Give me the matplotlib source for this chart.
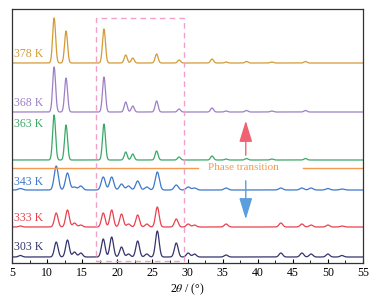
import numpy as np
import matplotlib
matplotlib.use("Agg")
import matplotlib.pyplot as plt
from matplotlib.ticker import MultipleLocator

plt.rcParams['font.family'] = ['Liberation Serif', 'DejaVu Serif']
plt.rcParams['mathtext.fontset'] = 'stix'

# ---- data (peak positions in 2theta, heights in arbitrary units) ----
labels = ["378 K", "368 K", "363 K", "343 K", "333 K", "303 K"]
colors = ["#d49a36", "#9d7fc6", "#3aa868", "#3d78cc", "#e8424e", "#34346e"]
offsets = [200, 151, 103, 73, 36, 6]
label_y = [209, 160, 139, 81, 45, 16]

ht_pos = [11.0, 12.7, 18.1, 21.2, 22.2, 25.6, 28.8, 33.5, 35.5, 38.4, 42.0, 46.8]
h378 = [45, 32, 34, 8, 5, 9, 3, 4, 1, 1.5, 1, 1.5]
h368 = [45, 34, 35, 10, 6, 11, 3, 4, 1, 1.5, 1, 1.5]
h363 = [45, 35, 36, 8, 6, 9, 3, 4, 1, 1.5, 1, 1.5]

lt_pos = [6.2, 11.3, 12.9, 13.9, 14.8, 18.0, 19.2, 20.6, 21.6, 22.9, 24.2, 25.7,
          28.4, 30.1, 31.0, 35.5, 43.3, 46.3, 47.6, 50.0, 52.0]
h343 = [1.5, 24, 17, 3, 4, 13, 13, 6, 4, 9, 3, 18, 5, 3, 2, 2, 2, 2, 2, 1.5, 1]
h333 = [1, 14, 17, 4, 2, 14, 17, 13, 3, 12, 3, 20, 8, 3, 2, 3, 4, 3, 2, 2, 1]
h303 = [1.5, 15, 17, 5, 4, 18, 20, 10, 3, 16, 3, 26, 14, 4, 3, 2, 4, 4, 3, 3, 1.5]

peak_sets = [(ht_pos, h378, 0.21), (ht_pos, h368, 0.21), (ht_pos, h363, 0.21),
             (lt_pos, h343, 0.29), (lt_pos, h333, 0.26), (lt_pos, h303, 0.26)]

x = np.linspace(5, 55, 2000)

fig = plt.figure(figsize=(3.82, 3.03), dpi=100)
ax = fig.add_axes([12/382, 40/303, 351/382, 254/303])

for (pos, hts, sig), off, col, lab, ly in zip(peak_sets, offsets, colors, labels, label_y):
    y = np.zeros_like(x)
    for p, h in zip(pos, hts):
        y += h * np.exp(-0.5 * ((x - p) / sig) ** 2)
    ax.plot(x, y + off, color=col, lw=0.9)
    ax.text(5.3, ly, lab, color=col, fontsize=8.5, va='center', ha='left')

# phase transition line
ax.plot([5, 31.5], [95, 95], color="#f39a50", lw=1.0)
ax.plot([46.5, 55], [95, 95], color="#f39a50", lw=1.0)
ax.text(37.9, 95, "Phase transition", color="#f39a50", fontsize=8, ha='center', va='center')

# arrows
ax.annotate("", xy=(38.3, 145), xytext=(38.3, 105),
            arrowprops=dict(arrowstyle="-|>,head_length=1.3,head_width=0.4",
                            color="#f06272", lw=1.0))
ax.annotate("", xy=(38.3, 41), xytext=(38.3, 85),
            arrowprops=dict(arrowstyle="-|>,head_length=1.3,head_width=0.4",
                            color="#5a9ede", lw=1.0))

# dashed rectangle
rx0, rx1, ry0, ry1 = 17.0, 29.5, 2, 245
ax.plot([rx0, rx1, rx1, rx0, rx0], [ry0, ry0, ry1, ry1, ry0],
        color="#f2a0c8", lw=1.0, ls=(0, (4, 3)))

ax.set_xlim(5, 55)
ax.set_ylim(0, 254)
ax.set_yticks([])
ax.xaxis.set_major_locator(MultipleLocator(5))
ax.xaxis.set_minor_locator(MultipleLocator(2.5))
ax.tick_params(axis='x', which='both', direction='in', labelsize=8.5, pad=3)
ax.tick_params(axis='x', which='major', length=3)
ax.tick_params(axis='x', which='minor', length=2)
for s in ax.spines.values():
    s.set_color("#333333")
    s.set_linewidth(0.9)
ax.set_xlabel(r"2$\theta$ / (°)", fontsize=8.5, labelpad=2)

fig.savefig("out.png", dpi=100)
